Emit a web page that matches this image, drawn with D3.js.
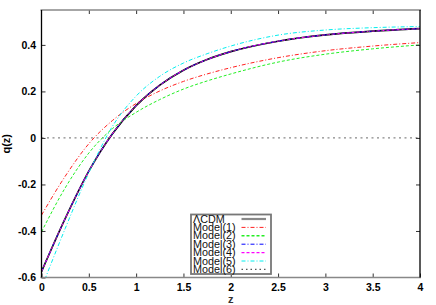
<!DOCTYPE html>
<html lang="en">
<head>
  <meta charset="UTF-8">
  <title>q(z)</title>
  <style>
    body { margin: 0; background: #fff; }
    svg { display: block; background: #fff; font-family: "Liberation Sans", Arial, sans-serif; }
  </style>
</head>
<body>
<svg width="436" height="305"></svg>
<script src="https://cdn.jsdelivr.net/npm/d3@7"></script>
<script>
  // values
  const zVals   = [0, 0.25, 0.5, 0.75, 1, 1.25, 1.5, 1.75, 2, 2.5, 3, 3.5, 4];
  const qLCDM   = [-0.575, -0.347, -0.143, 0.018, 0.139, 0.227, 0.291, 0.337, 0.371, 0.416, 0.443, 0.459, 0.470];
  const qModel1 = [-0.332, -0.165, -0.025, 0.075, 0.148, 0.202, 0.243, 0.275, 0.302, 0.345, 0.375, 0.395, 0.410];
  const qModel2 = [-0.404, -0.215, -0.065, 0.040, 0.110, 0.165, 0.210, 0.245, 0.275, 0.326, 0.360, 0.383, 0.400];
  const qModel3 = [-0.575, -0.347, -0.143, 0.018, 0.139, 0.227, 0.291, 0.337, 0.371, 0.416, 0.443, 0.459, 0.470];
  const qModel4 = [-0.575, -0.347, -0.143, 0.018, 0.139, 0.227, 0.291, 0.337, 0.371, 0.416, 0.443, 0.459, 0.470];
  const qModel5 = [-0.645, -0.390, -0.150, 0.050, 0.180, 0.265, 0.322, 0.362, 0.395, 0.442, 0.464, 0.474, 0.479];
  const qModel6 = [-0.575, -0.347, -0.143, 0.018, 0.139, 0.227, 0.291, 0.337, 0.371, 0.416, 0.443, 0.459, 0.470];

  const seriesNames = ["\u039BCDM", "Model(1)", "Model(2)", "Model(3)", "Model(4)", "Model(5)", "Model(6)"];
  const xTicks = [0, 0.5, 1, 1.5, 2, 2.5, 3, 3.5, 4];
  const yTicks = [-0.6, -0.4, -0.2, 0, 0.2, 0.4];

  const styles = [
    { color: "#000000", width: 1.6, dash: null,      legColor: "#888", legWidth: 2.2 },
    { color: "#ff2020", width: 1,   dash: "4,2,1,2", legColor: "#ff2020", legWidth: 1 },
    { color: "#22ee22", width: 1,   dash: "3,2",     legColor: "#22ee22", legWidth: 1.6 },
    { color: "#0000ff", width: 1,   dash: "4,2,1,2", legColor: "#0000ff", legWidth: 1 },
    { color: "#ff00ff", width: 1,   dash: "3,2",     legColor: "#ff00ff", legWidth: 1.4 },
    { color: "#00eeee", width: 1,   dash: "4,2,1,2", legColor: "#00eeee", legWidth: 1 },
    { color: "#555555", width: 1,   dash: "1.5,3",   legColor: "#555", legWidth: 1.4 }
  ];
  const qSeries = [qLCDM, qModel1, qModel2, qModel3, qModel4, qModel5, qModel6];

  const svg = d3.select("svg");
  const pLeft = 41.5, pRight = 420, pTop = 10, pBottom = 277.5;

  const x = d3.scaleLinear().domain([0, 4]).range([pLeft, pRight]);
  const y = d3.scaleLinear().domain([-0.6, 0.55]).range([pBottom, pTop]);

  svg.append("defs").append("clipPath").attr("id", "plot")
    .append("rect").attr("x", pLeft).attr("y", pTop)
    .attr("width", pRight - pLeft).attr("height", pBottom - pTop);

  // zero line
  svg.append("line")
    .attr("x1", pLeft).attr("x2", pRight)
    .attr("y1", y(0)).attr("y2", y(0))
    .attr("stroke", "#888").attr("stroke-width", 1.3)
    .attr("stroke-dasharray", "2,3.5");

  // curves
  const line = d3.line()
    .x(d => x(d[0]))
    .y(d => y(d[1]))
    .curve(d3.curveMonotoneX);

  const curves = svg.append("g").attr("clip-path", "url(#plot)");
  qSeries.forEach((vals, i) => {
    const s = styles[i];
    curves.append("path")
      .datum(zVals.map((z, j) => [z, vals[j]]))
      .attr("fill", "none")
      .attr("stroke", s.color)
      .attr("stroke-width", s.width)
      .attr("stroke-dasharray", s.dash)
      .attr("d", line);
  });

  const fmt = d => d === 0 ? "0" : String(+d.toFixed(1));

  // axes, ticks pointing inward
  const gx = svg.append("g").attr("transform", `translate(0,${pBottom})`)
    .call(d3.axisBottom(x).tickValues(xTicks).tickSize(-4).tickPadding(6).tickFormat(fmt));
  const gxTop = svg.append("g").attr("transform", `translate(0,${pTop})`)
    .call(d3.axisTop(x).tickValues(xTicks.slice(1, -1)).tickSize(-4).tickFormat(""));
  const gy = svg.append("g").attr("transform", `translate(${pLeft},0)`)
    .call(d3.axisLeft(y).tickValues(yTicks).tickSize(-4).tickPadding(5.5).tickFormat(fmt));
  const gyRight = svg.append("g").attr("transform", `translate(${pRight},0)`)
    .call(d3.axisRight(y).tickValues(yTicks.slice(1)).tickSize(-4).tickFormat(""));

  [gx, gxTop, gy, gyRight].forEach(g => {
    g.select(".domain").remove();
    g.selectAll(".tick line").attr("stroke", "#333");
    g.selectAll("text")
      .attr("font-size", "10.5px")
      .attr("font-weight", "bold")
      .attr("fill", "#000")
      .attr("font-family", "'Liberation Sans', Arial, sans-serif");
  });

  // frame
  svg.append("line").attr("x1", pLeft - 1).attr("x2", pRight + 1).attr("y1", pTop).attr("y2", pTop)
    .attr("stroke", "#888").attr("stroke-width", 1.6);
  svg.append("line").attr("x1", pLeft - 1).attr("x2", pRight + 1).attr("y1", pBottom).attr("y2", pBottom)
    .attr("stroke", "#888").attr("stroke-width", 1.6);
  svg.append("line").attr("x1", pLeft).attr("x2", pLeft).attr("y1", pTop).attr("y2", pBottom)
    .attr("stroke", "#000").attr("stroke-width", 1.3);
  svg.append("line").attr("x1", pRight).attr("x2", pRight).attr("y1", pTop).attr("y2", pBottom)
    .attr("stroke", "#000").attr("stroke-width", 1.3);

  // axis titles
  svg.append("text")
    .attr("x", (pLeft + pRight) / 2).attr("y", 303)
    .attr("text-anchor", "middle")
    .attr("font-size", "11px").attr("font-weight", "bold").attr("fill", "#333")
    .text("z");
  svg.append("text")
    .attr("transform", `translate(10,${(pTop + pBottom) / 2}) rotate(-90)`)
    .attr("text-anchor", "middle")
    .attr("font-size", "11px").attr("font-weight", "bold").attr("fill", "#000")
    .text("q(z)");

  // legend
  const legX = 191, legY = 214.5, legW = 80, legH = 59.5, rowH = 8.4;
  const leg = svg.append("g");
  leg.append("rect")
    .attr("x", legX).attr("y", legY).attr("width", legW).attr("height", legH)
    .attr("fill", "#fff").attr("stroke", "#777").attr("stroke-width", 1.8);
  seriesNames.forEach((name, i) => {
    const cy = legY + 4 + i * rowH;
    const s = styles[i];
    leg.append("text")
      .attr("x", legX + 2).attr("y", cy + 4)
      .attr("font-size", "10.8px").attr("fill", "#111")
      .text(name);
    leg.append("line")
      .attr("x1", 241.5).attr("x2", 266)
      .attr("y1", cy + 0.5).attr("y2", cy + 0.5)
      .attr("stroke", s.legColor).attr("stroke-width", s.legWidth)
      .attr("stroke-dasharray", s.dash);
  });
</script>
</body>
</html>
